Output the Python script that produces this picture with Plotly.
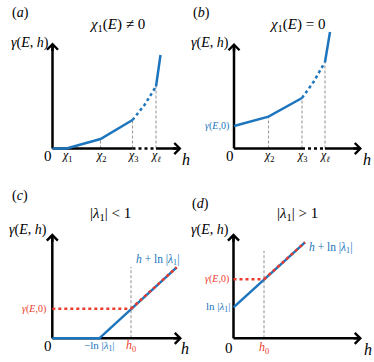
import plotly.graph_objects as go

BLUE = "#1c75bd"
RED = "#ec3a2c"
GRAY = "#9a9a9a"
FONT = "Liberation Serif, Times New Roman, serif"

# panel (a): chi_1(E) != 0
a_h = [0, 1.4, 4.8, 8.0, 9.2, 10.35, 10.8]
a_gamma = [0, 0, 0.95, 2.85, 4.35, 6.2, 9.35]
a_ticks = [1.4, 4.8, 8.0, 10.35]
a_tick_labels = ["<i>χ</i><sub>1</sub>", "<i>χ</i><sub>2</sub>", "<i>χ</i><sub>3</sub>", "<i>χ</i><sub><i>ℓ</i></sub>"]

# panel (b): chi_1(E) = 0
b_h = [0, 3.45, 6.8, 7.95, 9.1, 9.6]
b_gamma = [2.25, 3.18, 5.05, 6.65, 8.65, 11.65]
b_ticks = [3.45, 6.8, 9.1]
b_tick_labels = ["<i>χ</i><sub>2</sub>", "<i>χ</i><sub>3</sub>", "<i>χ</i><sub><i>ℓ</i></sub>"]

# panel (c): |lambda_1| < 1
c_h = [0, 4.7, 12.44]
c_gamma = [0, 0, 7.1]
c_h0, c_gamma0 = 7.87, 2.95

# panel (d): |lambda_1| > 1
d_h = [0, 7.15]
d_gamma = [3.1, 9.6]
d_h0, d_gamma0 = 3.05, 5.9

fig = go.Figure()

# 10 px per data unit in every panel
panels = {
    "a": dict(ax="x", ay="y", xr=[-5.25, 13.45], yr=[-3.25, 14.85], xd=[0, 0.5], yd=[0.5, 1],
              xend=12.9, yend=10.6),
    "b": dict(ax="x2", ay="y2", xr=[-4.7, 14.0], yr=[-3.25, 14.85], xd=[0.5, 1], yd=[0.5, 1],
              xend=12.8, yend=10.55),
    "c": dict(ax="x3", ay="y3", xr=[-5.23, 13.47], yr=[-2.37, 15.73], xd=[0, 0.5], yd=[0, 0.5],
              xend=12.97, yend=10.5),
    "d": dict(ax="x4", ay="y4", xr=[-4.65, 14.05], yr=[-2.37, 15.73], xd=[0.5, 1], yd=[0, 0.5],
              xend=12.85, yend=10.5),
}


def line(p, x, y, color, width=2.5, dash="solid"):
    fig.add_trace(go.Scatter(x=x, y=y, mode="lines", xaxis=p["ax"], yaxis=p["ay"],
                             line=dict(color=color, width=width, dash=dash),
                             hoverinfo="skip", showlegend=False))


def text(p, x, y, s, size=12, color="black", xanchor="center"):
    fig.add_annotation(x=x, y=y, xref=p["ax"], yref=p["ay"], text=s, showarrow=False,
                       xanchor=xanchor, yanchor="middle",
                       font=dict(family=FONT, size=size, color=color))


def arrow(p, x, y, ax, ay):
    fig.add_annotation(x=x, y=y, ax=ax, ay=ay, xref=p["ax"], yref=p["ay"],
                       axref=p["ax"], ayref=p["ay"], text="", showarrow=True,
                       arrowhead=4, arrowsize=0.85, arrowwidth=2.5, arrowcolor="black",
                       standoff=0)


def axes(p, dot_from=None, dot_to=None):
    line(p, [0, 0], [0, p["yend"] - 0.3], "black")
    arrow(p, 0, p["yend"], 0, p["yend"] - 1)
    if dot_from is None:
        line(p, [0, p["xend"] - 0.3], [0, 0], "black")
    else:
        line(p, [0, dot_from], [0, 0], "black")
        line(p, [dot_from, dot_to], [0, 0], "black", dash="dot")
        line(p, [dot_to, p["xend"] - 0.3], [0, 0], "black")
    arrow(p, p["xend"], 0, p["xend"] - 1, 0)


for k, p in panels.items():
    fig.update_layout(**{
        ("xaxis" if k == "a" else "xaxis" + p["ax"][1:]): dict(
            domain=p["xd"], range=p["xr"], visible=False, anchor=p["ay"]),
        ("yaxis" if k == "a" else "yaxis" + p["ay"][1:]): dict(
            domain=p["yd"], range=p["yr"], visible=False, anchor=p["ax"]),
    })

ylab = "<i>γ</i>(<i>E</i>, <i>h</i>)"

# (a)
p = panels["a"]
for t, g in zip(a_ticks[1:], [a_gamma[2], a_gamma[3], a_gamma[5]]):
    line(p, [t, t], [0, g], GRAY, width=1.1, dash="3px,2px")
axes(p, a_ticks[2], a_ticks[3])
line(p, a_h[:4], a_gamma[:4], BLUE)
line(p, a_h[3:6], a_gamma[3:6], BLUE, dash="dot")
line(p, a_h[5:], a_gamma[5:], BLUE)
for t, s in zip(a_ticks, a_tick_labels):
    text(p, t, -0.75, s, size=12)
text(p, -0.45, -0.75, "0", size=15)
text(p, 13.35, -1.1, "<i>h</i>", size=16)
text(p, -3.25, 13.55, "(<i>a</i>)", size=14)
text(p, 6.45, 12.35, "<i>χ</i><sub>1</sub>(<i>E</i>) ≠ 0", size=15)
text(p, -2.25, 10.55, ylab, size=14)

# (b)
p = panels["b"]
for t, g in zip(b_ticks, [b_gamma[1], b_gamma[2], b_gamma[4]]):
    line(p, [t, t], [0, g], GRAY, width=1.1, dash="3px,2px")
axes(p, b_ticks[1], b_ticks[2])
line(p, b_h[:3], b_gamma[:3], BLUE)
line(p, b_h[2:5], b_gamma[2:5], BLUE, dash="dot")
line(p, b_h[4:], b_gamma[4:], BLUE)
for t, s in zip(b_ticks, b_tick_labels):
    text(p, t, -0.75, s, size=12)
text(p, -0.4, -0.75, "0", size=15)
text(p, 13.3, -1.1, "<i>h</i>", size=16)
text(p, -3.3, 13.55, "(<i>b</i>)", size=14)
text(p, 6.3, 12.35, "<i>χ</i><sub>1</sub>(<i>E</i>) = 0", size=15)
text(p, -2.4, 10.55, ylab, size=14)
text(p, -0.35, b_gamma[0], "<i>γ</i>(<i>E</i>,0)", size=10, color=BLUE, xanchor="right")

# (c)
p = panels["c"]
line(p, [c_h0, c_h0], [0, 7.13], GRAY, width=1.1, dash="3px,2px")
axes(p)
line(p, c_h, c_gamma, BLUE)
line(p, [0, c_h0], [c_gamma0, c_gamma0], RED, dash="dot")
line(p, [c_h0, c_h[-1]], [c_gamma0, c_gamma[-1]], RED, dash="dot")
text(p, -0.43, -0.8, "0", size=15)
text(p, c_h[1], -0.8, "−ln |<i>λ</i><sub>1</sub>|", size=11, color=BLUE)
text(p, c_h0, -0.8, "<i>h</i><sub>0</sub>", size=12, color=RED)
text(p, 13.3, -1.0, "<i>h</i>", size=16)
text(p, -0.45, c_gamma0, "<i>γ</i>(<i>E</i>,0)", size=10, color=RED, xanchor="right")
text(p, 10.5, 7.85, "<i>h</i> + ln |<i>λ</i><sub>1</sub>|", size=11.5, color=BLUE)
text(p, -3.25, 14.2, "(<i>c</i>)", size=14)
text(p, 5.77, 12.43, "|<i>λ</i><sub>1</sub>| &lt; 1", size=15)
text(p, -2.4, 10.83, ylab, size=14)

# (d)
p = panels["d"]
line(p, [d_h0, d_h0], [0, 8.76], GRAY, width=1.1, dash="3px,2px")
axes(p)
line(p, d_h, d_gamma, BLUE)
line(p, [0, d_h0], [d_gamma0, d_gamma0], RED, dash="dot")
line(p, [d_h0, d_h[-1]], [d_gamma0, d_gamma[-1]], RED, dash="dot")
text(p, -0.48, -0.95, "0", size=15)
text(p, d_h0, -0.95, "<i>h</i><sub>0</sub>", size=12, color=RED)
text(p, 13.4, -1.15, "<i>h</i>", size=16)
text(p, -0.3, d_gamma0, "<i>γ</i>(<i>E</i>,0)", size=10, color=RED, xanchor="right")
text(p, -0.2, d_gamma[0], "ln |<i>λ</i><sub>1</sub>|", size=11, color=BLUE, xanchor="right")
text(p, 7.3, 9.0, "<i>h</i> + ln |<i>λ</i><sub>1</sub>|", size=11.5, color=BLUE, xanchor="left")
text(p, -3.3, 13.43, "(<i>d</i>)", size=14)
text(p, 6.35, 12.43, "|<i>λ</i><sub>1</sub>| &gt; 1", size=15)
text(p, -2.35, 10.83, ylab, size=14)

fig.update_layout(width=374, height=362, margin=dict(l=0, r=0, t=0, b=0),
                  font=dict(family=FONT), plot_bgcolor="white", paper_bgcolor="white")
# drop the browser's default body margin so the figure fills the window
fig.write_html("out.html", config={"displayModeBar": False},
               post_script="document.body.style.margin = '0';")
